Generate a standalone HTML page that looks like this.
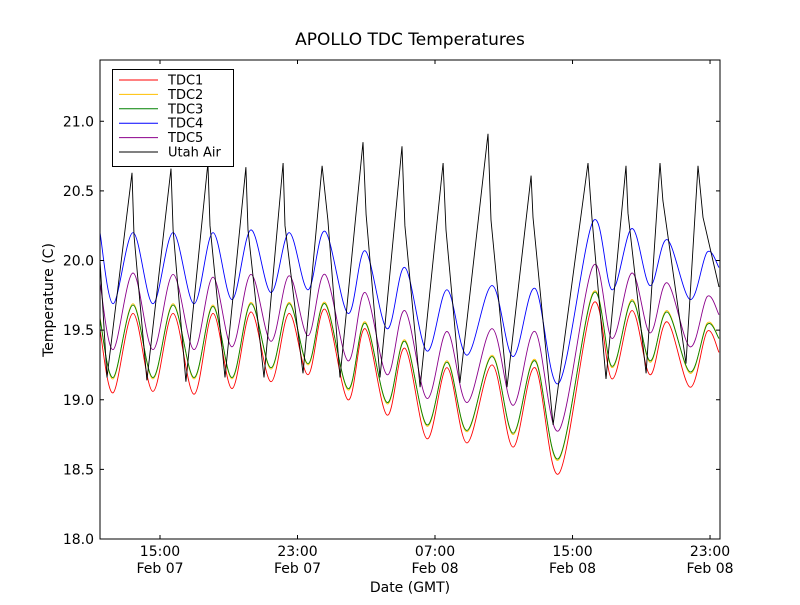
<!DOCTYPE html>
<html><head><meta charset="utf-8"><style>
body{margin:0;background:#fff;}
svg text{font-family:"DejaVu Sans","Liberation Sans",sans-serif;fill:#000;}
</style></head><body>
<svg id="chart" width="800" height="600" viewBox="0 0 800 600">
<rect width="800" height="600" fill="#fff"/>
<text x="410" y="45" font-size="17" text-anchor="middle">APOLLO TDC Temperatures</text>
<g id="plot"></g>
<g id="axes"></g>
<text x="0" y="0" font-size="14" text-anchor="middle" transform="translate(53,300) rotate(-90)">Temperature (C)</text>
<text x="410" y="592" font-size="14" text-anchor="middle">Date (GMT)</text>
<g id="legend"></g>
</svg>
<script>
// ---- data ----
const tdcHours = [11.51,12.27,13.43,14.59,15.76,16.98,18.08,19.19,20.29,21.46,22.51,23.61,24.60,25.94,26.93,28.21,29.25,30.53,31.70,32.86,34.32,35.54,36.82,38.21,40.19,41.30,42.46,43.51,44.50,45.84,46.83,47.52];
const tdc1 = [19.50,19.05,19.62,19.06,19.62,19.04,19.62,19.08,19.63,19.13,19.62,19.18,19.65,19.00,19.51,18.89,19.37,18.72,19.23,18.69,19.25,18.66,19.23,18.47,19.69,19.15,19.64,19.18,19.56,19.09,19.49,19.34];
const tdc2 = [19.59,19.15,19.69,19.15,19.69,19.15,19.68,19.15,19.70,19.22,19.70,19.25,19.70,19.07,19.56,18.97,19.43,18.81,19.28,18.77,19.32,18.75,19.29,18.57,19.77,19.23,19.72,19.27,19.64,19.19,19.55,19.44];
const tdc3 = [19.58,19.16,19.68,19.16,19.68,19.16,19.67,19.16,19.69,19.23,19.69,19.26,19.69,19.08,19.55,18.98,19.42,18.82,19.27,18.78,19.31,18.76,19.28,18.58,19.76,19.24,19.71,19.28,19.63,19.20,19.54,19.44];
const tdc4 = [20.20,19.69,20.20,19.69,20.20,19.69,20.20,19.72,20.22,19.77,20.20,19.79,20.21,19.62,20.07,19.51,19.95,19.35,19.79,19.32,19.82,19.31,19.80,19.12,20.28,19.79,20.23,19.82,20.15,19.72,20.06,19.95];
const tdc5 = [19.84,19.36,19.91,19.36,19.90,19.36,19.88,19.38,19.90,19.42,19.89,19.46,19.90,19.28,19.77,19.18,19.64,19.01,19.49,18.98,19.51,18.96,19.49,18.78,19.96,19.44,19.91,19.48,19.84,19.38,19.74,19.61];
const airHours = [11.51,11.92,13.37,13.49,14.24,15.64,15.76,16.51,17.79,17.91,18.78,20.00,20.12,21.05,22.16,22.27,23.32,24.43,24.77,25.47,26.81,26.99,27.80,29.08,29.25,30.13,31.47,31.64,32.45,34.08,34.26,35.19,36.59,36.70,37.87,39.90,40.13,40.95,42.11,42.23,43.28,44.09,44.26,45.60,46.30,46.59,47.52];
const utahAir = [20.00,19.16,20.63,20.18,19.14,20.66,20.22,19.13,20.70,20.25,19.16,20.67,20.22,19.16,20.70,20.25,19.19,20.68,20.29,19.16,20.85,20.33,19.16,20.82,20.25,19.09,20.70,20.22,19.12,20.91,20.29,19.09,20.61,20.31,18.82,20.70,20.31,19.15,20.68,20.34,19.19,20.70,20.43,19.26,20.68,20.31,19.81];
const yTicks = [18.0,18.5,19.0,19.5,20.0,20.5,21.0];
const xTickHours = [15,23,31,39,47];
const xTickTimes = ["15:00","23:00","07:00","15:00","23:00"];
const xTickDates = ["Feb 07","Feb 07","Feb 08","Feb 08","Feb 08"];
const seriesNames = ["TDC1","TDC2","TDC3","TDC4","TDC5","Utah Air"];
const seriesColors = ["#ff0000","#ffbf00","#008000","#0000ff","#8b008b","#000000"];

// ---- axes ----
const L=100,R=720,T=60,B=539;
const xMin=11.51, xMax=47.58, yMin=18.0, yMax=21.44;
const X=h=>L+(h-xMin)/(xMax-xMin)*(R-L);
const Y=v=>B-(v-yMin)/(yMax-yMin)*(B-T);
const NS="http://www.w3.org/2000/svg";
function mk(tag,attrs,parent){const e=document.createElementNS(NS,tag);for(const k in attrs)e.setAttribute(k,attrs[k]);parent.appendChild(e);return e;}
function smoothPath(xs,ys){
  const p=xs.map((h,i)=>[X(h),Y(ys[i])]);
  let d="M"+p[0][0].toFixed(1)+","+p[0][1].toFixed(1);
  for(let i=0;i<p.length-1;i++){
    const p0=p[i-1]||p[i],p1=p[i],p2=p[i+1],p3=p[i+2]||p2;
    const c1=[p1[0]+(p2[0]-p0[0])/6,p1[1]+(p2[1]-p0[1])/6];
    const c2=[p2[0]-(p3[0]-p1[0])/6,p2[1]-(p3[1]-p1[1])/6];
    d+=" C"+c1[0].toFixed(1)+","+c1[1].toFixed(1)+" "+c2[0].toFixed(1)+","+c2[1].toFixed(1)+" "+p2[0].toFixed(1)+","+p2[1].toFixed(1);
  }
  return d;
}
const plot=document.getElementById('plot');
const defs=mk('defs',{},plot);
const cp=mk('clipPath',{id:'clip'},defs);
mk('rect',{x:L,y:T,width:R-L,height:B-T},cp);
const g=mk('g',{'clip-path':'url(#clip)'},plot);
const tdcData=[tdc1,tdc2,tdc3,tdc4,tdc5];
const tdcKeys=["tdc1-line","tdc2-line","tdc3-line","tdc4-line","tdc5-line"];
[1,0,2,4,3].forEach(i=>{
  const path=mk('path',{d:smoothPath(tdcHours,tdcData[i]),fill:'none',stroke:seriesColors[i],'stroke-width':0.9},g);
  
  
});
const airPath=mk('path',{d:airHours.map((h,i)=>(i?"L":"M")+X(h).toFixed(1)+","+Y(utahAir[i]).toFixed(1)).join(" "),fill:'none',stroke:'#000','stroke-width':0.9},g);



const axes=document.getElementById('axes');
mk('rect',{x:L,y:T,width:R-L,height:B-T,fill:'none',stroke:'#000','stroke-width':1},axes);
yTicks.forEach(v=>{
  const y=Y(v);
  mk('line',{x1:L,x2:L+4,y1:y,y2:y,stroke:'#000'},axes);
  mk('line',{x1:R-4,x2:R,y1:y,y2:y,stroke:'#000'},axes);
  const t=mk('text',{x:L-6,y:y+5,'font-size':14,'text-anchor':'end'},axes);
  t.textContent=v.toFixed(1);
  
  
});
xTickHours.forEach((h,i)=>{
  const x=X(h);
  mk('line',{x1:x,x2:x,y1:B,y2:B-4,stroke:'#000'},axes);
  mk('line',{x1:x,x2:x,y1:T,y2:T+4,stroke:'#000'},axes);
  const t=mk('text',{x:x,y:556,'font-size':14,'text-anchor':'middle'},axes);
  t.textContent=xTickTimes[i];
  
  
  const t2=mk('text',{x:x,y:573,'font-size':14,'text-anchor':'middle'},axes);
  t2.textContent=xTickDates[i];
  
  
});

const lg=document.getElementById('legend');
mk('rect',{x:112.5,y:69.5,width:121,height:97,fill:'#fff',stroke:'#000','stroke-width':1},lg);
seriesNames.forEach((n,i)=>{
  const y=80+i*14.4;
  const ent=mk('g',{},lg);
  
  
  mk('line',{x1:119,x2:158,y1:y,y2:y,stroke:seriesColors[i],'stroke-width':1},ent);
  const t=mk('text',{x:168,y:y+4.5,'font-size':13},ent);
  t.textContent=n;
});
</script>
</body></html>
